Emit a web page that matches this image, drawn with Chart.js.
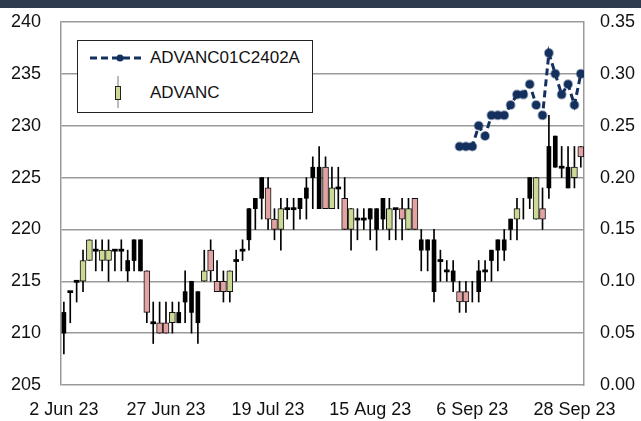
<!DOCTYPE html>
<html>
<head>
<meta charset="utf-8">
<script src="https://cdn.jsdelivr.net/npm/chart.js@4.4.1/dist/chart.umd.min.js"></script>
<style>
  html, body { margin: 0; padding: 0; background: #fff; }
  #wrap { position: relative; width: 641px; height: 421px; overflow: hidden; }
  #topbar { position: absolute; left: 0; top: 0; width: 641px; height: 8px; background: #2e3a4d; }
  #legend { position: absolute; left: 77px; top: 40px; width: 234px; height: 71px;
            border: 1px solid #222; background: #fff;
            font: 17px "Liberation Sans", Arial, sans-serif; color: #111; }
  #legend .txt { position: absolute; left: 72px; height: 20px; line-height: 20px; white-space: nowrap; }
  #legend svg { position: absolute; }
</style>
</head>
<body>
<div id="wrap">
  <canvas id="chart" width="641" height="421"></canvas>
  <div id="topbar"></div>
  <div id="legend">
    <svg style="left:12px; top:12px" width="54" height="10">
      <line x1="0" y1="5" x2="52" y2="5" stroke="#14305e" stroke-width="3" stroke-dasharray="7,4"/>
      <circle cx="30" cy="5" r="3.5" fill="#14305e"/>
    </svg>
    <div class="txt" style="top:7px">ADVANC01C2402A</div>
    <svg style="left:35px; top:35px" width="10" height="33">
      <line x1="5" y1="0" x2="5" y2="32" stroke="#777" stroke-width="1"/>
      <rect x="2.5" y="10.5" width="5" height="13" fill="#cbd994" stroke="#222" stroke-width="1"/>
    </svg>
    <div class="txt" style="top:42px">ADVANC</div>
  </div>
</div>
<script>
// x axis tick labels (trading day index -> label)
const tickLabels = ['2 Jun 23', '27 Jun 23', '19 Jul 23', '15 Aug 23', '6 Sep 23', '28 Sep 23'];
const tickIdx = [0, 16, 32, 48, 64, 80];

// ADVANC daily candles, 2 Jun 23 .. 29 Sep 23
const open = [
  212, 214, 215, 215, 217, 218, 217, 217, 218, 218, 217, 219, 219, 216, 211, 211,
  211, 211, 212, 214, 215, 214, 215, 218, 215, 215, 214, 217, 218, 219, 222, 223,
  224, 221, 220, 222, 222, 222, 223, 225, 222, 226, 222, 224, 223, 220, 221, 221,
  221, 222, 221, 220, 222, 222, 220, 223, 219, 219, 219, 217, 216, 216, 214, 213,
  214, 216, 216, 217, 218, 218, 220, 221, 222, 223, 225, 222, 224, 229, 226, 224,
  226, 227
];
const high = [
  213, 214, 215, 218, 219, 219, 219, 219, 218, 219, 218, 219, 219, 216, 213, 213,
  213, 213, 213, 216, 215, 214, 218, 219, 217, 216, 216, 218, 219, 222, 223, 225,
  225, 222, 223, 223, 223, 223, 225, 227, 228, 227, 226, 226, 225, 222, 222, 222,
  222, 222, 223, 223, 222, 223, 223, 223, 220, 219, 220, 218, 217, 217, 215, 215,
  215, 217, 217, 218, 219, 220, 221, 223, 223, 225, 225, 224, 231, 229, 228, 228,
  228, 228
];
const low = [
  208, 211, 213, 214, 217, 216, 216, 215, 216, 216, 215, 216, 216, 211, 209, 210,
  210, 210, 211, 211, 210, 209, 215, 215, 214, 213, 213, 215, 217, 218, 220, 221,
  220, 219, 218, 221, 220, 221, 221, 222, 222, 222, 222, 222, 220, 218, 219, 220,
  219, 218, 220, 219, 219, 219, 220, 220, 216, 216, 213, 215, 215, 214, 212, 212,
  213, 213, 215, 215, 216, 217, 219, 219, 221, 222, 221, 220, 223, 226, 225, 224,
  224, 226
];
const close = [
  210, 214, 215, 217, 219, 218, 218, 218, 218, 218, 216, 217, 216, 212, 211, 210,
  210, 212, 211, 213, 212, 211, 216, 216, 214, 214, 216, 217, 218, 222, 223, 225,
  221, 220, 222, 222, 222, 223, 224, 226, 226, 222, 224, 224, 220, 222, 221, 221,
  222, 220, 223, 222, 222, 221, 222, 220, 218, 218, 214, 217, 216, 215, 213, 214,
  214, 214, 216, 218, 219, 219, 221, 222, 222, 225, 221, 221, 228, 226, 226, 226,
  225, 228
];
// body fill: g = green, r = pink, k = black
const kind = 'kkkggkggkkkkkrkrrgkkkkgrrrgkkkkkrrgkkkkkkrgkrgkkkkkgkrgrkkkkkkrrgkkkkkkggkgrkkkkgrg';

// ADVANC01C2402A, right axis, starts at trading day 62
const warrantStart = 62;
const warrant = [0.23, 0.23, 0.23, 0.25, 0.24, 0.26, 0.26, 0.26, 0.27, 0.28,
                 0.28, 0.29, 0.27, 0.26, 0.32, 0.30, 0.28, 0.29, 0.27, 0.30];

const font = { family: '"Liberation Sans", Arial, sans-serif', size: 18 };

function bodies(k, doji) {
  const out = [];
  for (let i = 0; i < open.length; i++) {
    if (kind[i] !== k) continue;
    const lo = Math.min(open[i], close[i]);
    const hi = Math.max(open[i], close[i]);
    if (doji === undefined) out.push({ x: i, y: [lo, hi] });
    else if (doji && lo === hi) out.push({ x: i, y: [lo - 0.1, hi + 0.1] });
    else if (!doji && lo !== hi) out.push({ x: i, y: [lo, hi] });
  }
  return out;
}

const wicks = open.map((o, i) => ({ x: i, y: [low[i], high[i]] }));
const warrantPts = warrant.map((v, i) => ({ x: warrantStart + i, y: v }));

const data = {
  datasets: [
    {
      type: 'line',
      label: 'ADVANC01C2402A',
      data: warrantPts,
      yAxisID: 'y1',
      borderColor: '#14305e',
      borderWidth: 3,
      borderDash: [7, 4],
      pointRadius: 4,
      pointBackgroundColor: '#14305e',
      pointBorderColor: 'rgba(20, 48, 94, 0.45)',
      pointBorderWidth: 2,
      order: 0
    },
    {
      label: 'up',
      data: bodies('g'),
      backgroundColor: '#cbd994',
      borderColor: '#111',
      borderWidth: 1,
      borderSkipped: false,
      barThickness: 6,
      grouped: false,
      order: 1
    },
    {
      label: 'down',
      data: bodies('r'),
      backgroundColor: '#e3a3a3',
      borderColor: '#111',
      borderWidth: 1,
      borderSkipped: false,
      barThickness: 6,
      grouped: false,
      order: 1
    },
    {
      label: 'black',
      data: bodies('k', false),
      backgroundColor: '#000',
      barThickness: 4,
      grouped: false,
      order: 1
    },
    {
      label: 'doji',
      data: bodies('k', true),
      backgroundColor: '#000',
      barThickness: 5,
      grouped: false,
      order: 1
    },
    {
      label: 'wick',
      data: wicks,
      backgroundColor: '#000',
      barThickness: 1,
      grouped: false,
      order: 2
    }
  ]
};

const config = {
  type: 'bar',
  data: data,
  options: {
    animation: false,
    responsive: false,
    layout: { padding: { top: 22, right: 0, bottom: 0, left: 0 } },
    plugins: {
      legend: { display: false },
      tooltip: { enabled: false }
    },
    scales: {
      x: {
        type: 'linear',
        offset: false,
        min: -0.45,
        max: 81.5,
        grid: { display: false, drawTicks: false },
        border: { display: false },
        afterBuildTicks: s => { s.ticks = tickIdx.map(v => ({ value: v })); },
        ticks: {
          autoSkip: false,
          maxRotation: 0,
          padding: 14,
          color: '#111',
          font: font,
          callback: v => tickLabels[tickIdx.indexOf(v)]
        },
        afterFit: s => { s.height = 36; s.paddingLeft = 0; s.paddingRight = 0; }
      },
      y: {
        position: 'left',
        min: 205,
        max: 240,
        grid: { color: '#9a9a9a', lineWidth: 1.5, drawTicks: false },
        border: { display: true, color: '#9a9a9a', width: 1.5 },
        ticks: { stepSize: 5, padding: 20, color: '#111', font: font },
        afterFit: s => { s.width = 61; s.paddingTop = 0; s.paddingBottom = 0; }
      },
      y1: {
        position: 'right',
        min: 0,
        max: 0.35,
        grid: { display: false, drawTicks: false },
        border: { display: true, color: '#9a9a9a', width: 1.5 },
        ticks: { stepSize: 0.05, padding: 16, color: '#111', font: font,
                 callback: v => v.toFixed(2) },
        afterFit: s => { s.width = 57; s.paddingTop = 0; s.paddingBottom = 0; }
      }
    }
  }
};

const chart = new Chart(document.getElementById('chart'), config);
</script>
</body>
</html>
